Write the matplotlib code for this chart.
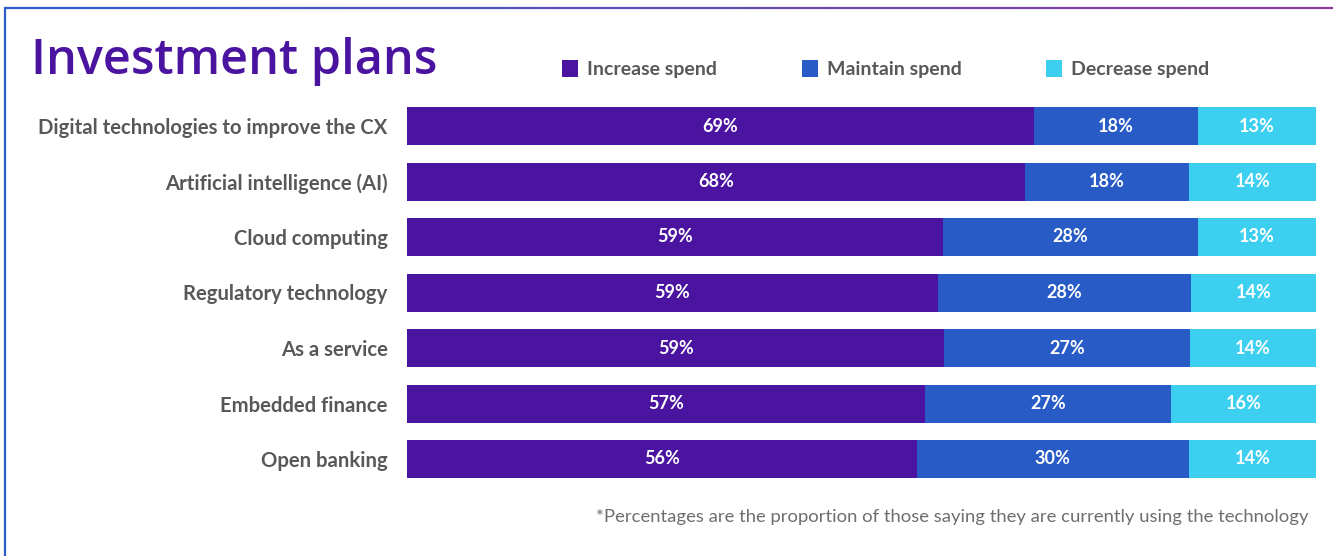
import numpy as np
import matplotlib
matplotlib.use('Agg')
import matplotlib.pyplot as plt
from matplotlib.collections import LineCollection
from matplotlib.colors import LinearSegmentedColormap
from matplotlib.patches import Rectangle

# data
categories = ['Digital technologies to improve the CX', 'Artificial intelligence (AI)',
              'Cloud computing', 'Regulatory technology', 'As a service',
              'Embedded finance', 'Open banking']
increase = [69, 68, 59, 58.4, 59.1, 57, 56.1]
maintain = [18, 18, 28, 27.8, 27, 27, 29.9]
decrease = [13, 14, 13, 13.8, 13.9, 16, 14]
increase_lbl = ['69%', '68%', '59%', '59%', '59%', '57%', '56%']
maintain_lbl = ['18%', '18%', '28%', '28%', '27%', '27%', '30%']
decrease_lbl = ['13%', '14%', '13%', '14%', '14%', '16%', '14%']
series_names = ['Increase spend', 'Maintain spend', 'Decrease spend']

colors = ['#4B14A0', '#285BC6', '#3CCFEF']
purple = '#4B14A0'
gray = '#58585A'
font = ['Lato', 'DejaVu Sans']

W, H = 1333, 556
fig = plt.figure(figsize=(W / 100, H / 100), dpi=100)

def fx(px):
    return px / W

def fy(py):
    return 1 - py / H

# frame: blue left edge, gradient top edge
fig.add_artist(plt.Line2D([fx(5), fx(5)], [fy(8), 0], transform=fig.transFigure,
                          color='#2D5BC8', lw=1.6))
xs = np.linspace(fx(5), 1, 200)
segs = [[(xs[i], fy(8)), (xs[i + 1], fy(8))] for i in range(len(xs) - 1)]
cmap = LinearSegmentedColormap.from_list('edge', ['#2D5BC8', '#8E3A9D'])
lc = LineCollection(segs, colors=cmap(np.linspace(0, 1, len(segs))), lw=1.6,
                    transform=fig.transFigure)
fig.add_artist(lc)

# title
fig.text(fx(31), fy(62), 'Investment plans', fontsize=35, color=purple,
         family=['Open Sans', 'DejaVu Sans'], fontweight='semibold', ha='left', va='center')

# legend
leg_x = [562, 802, 1046]
for x0, c, name in zip(leg_x, colors, series_names):
    fig.add_artist(Rectangle((fx(x0), fy(77)), fx(16), 17 / H, transform=fig.transFigure,
                             facecolor=c, edgecolor='none'))
    fig.text(fx(x0 + 25), fy(69), name, fontsize=14, fontweight='bold', color=gray,
             family=font, ha='left', va='center')

# bars
ax = fig.add_axes([fx(407), fy(478), fx(1316) - fx(407), (478 - 107) / H])
y = np.arange(len(categories))
bh = 38 / 55.5
inc = np.array(increase)
mnt = np.array(maintain)
dec = np.array(decrease)
ax.barh(y, inc, height=bh, color=colors[0])
ax.barh(y, mnt, left=inc, height=bh, color=colors[1])
ax.barh(y, dec, left=inc + mnt, height=bh, color=colors[2])

for i in range(len(categories)):
    kw = dict(color='white', fontsize=13, fontweight='bold', family=font,
              ha='center', va='center')
    ax.text(inc[i] / 2, i, increase_lbl[i], **kw)
    ax.text(inc[i] + mnt[i] / 2, i, maintain_lbl[i], **kw)
    ax.text(inc[i] + mnt[i] + dec[i] / 2, i, decrease_lbl[i], **kw)

ax.set_xlim(0, 100)
ax.set_ylim(len(categories) - 1 + bh / 2, -bh / 2)
ax.set_yticks(y)
ax.set_yticklabels(categories, fontsize=14.6, fontweight='bold', color=gray, family=font)
ax.tick_params(axis='y', length=0, pad=14)
ax.set_xticks([])
for s in ax.spines.values():
    s.set_visible(False)

# footnote
fig.text(fx(1308), fy(517), '*Percentages are the proportion of those saying they are currently using the technology',
         fontsize=13.3, color='#6D6E71', family=font, ha='right', va='center')

fig.savefig('out.png', dpi=100, facecolor='white')
